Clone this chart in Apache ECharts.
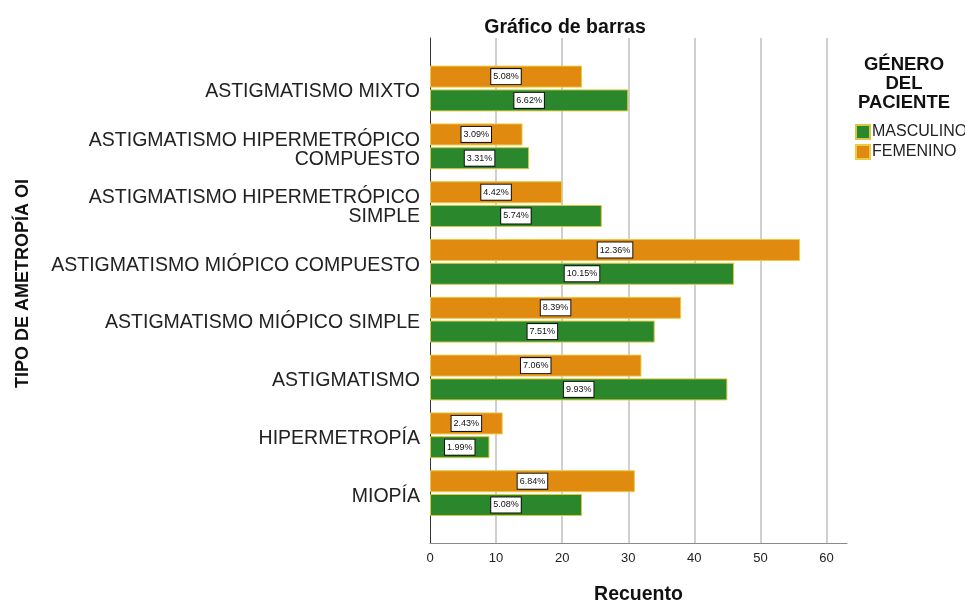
<!DOCTYPE html>
<html><head><meta charset="utf-8">
<script src="https://cdn.jsdelivr.net/npm/echarts@6/dist/echarts.min.js"></script>
<style>html,body{margin:0;padding:0;background:#fff}#c{width:965px;height:600px}</style>
</head><body><div id="c"></div>
<script>
const categories = ['ASTIGMATISMO MIXTO', 'ASTIGMATISMO HIPERMETRÓPICO\nCOMPUESTO', 'ASTIGMATISMO HIPERMETRÓPICO\nSIMPLE', 'ASTIGMATISMO MIÓPICO COMPUESTO', 'ASTIGMATISMO MIÓPICO SIMPLE', 'ASTIGMATISMO', 'HIPERMETROPÍA', 'MIOPÍA'];
const masculino = [30, 15, 26, 46, 34, 45, 9, 23];
const femenino = [23, 14, 20, 56, 38, 32, 11, 31];
const masculinoLabels = ['6.62%', '3.31%', '5.74%', '10.15%', '7.51%', '9.93%', '1.99%', '5.08%'];
const femeninoLabels = ['5.08%', '3.09%', '4.42%', '12.36%', '8.39%', '7.06%', '2.43%', '6.84%'];
const xTicks = [0, 10, 20, 30, 40, 50, 60];

const FONT = '"Liberation Sans", Arial, sans-serif';
const labelStyle = (arr) => ({
  show: true, position: 'inside',
  formatter: p => arr[p.dataIndex],
  backgroundColor: '#fff', borderColor: '#111', borderWidth: 1,
  padding: [3, 2, 3, 2], fontSize: 9, color: '#111', fontFamily: FONT
});
const chart = echarts.init(document.getElementById('c'), null, {renderer: 'canvas'});
chart.setOption({
  animation: false,
  textStyle: {fontFamily: FONT},
  title: [
    {text: 'Gráfico de barras', left: 560, top: 13, textAlign: 'center',
     textStyle: {fontSize: 19.5, fontWeight: 'bold', color: '#111', fontFamily: FONT}},
    {text: 'GÉNERO\nDEL\nPACIENTE', left: 899, top: 50, textAlign: 'center',
     textStyle: {fontSize: 18.5, fontWeight: 'bold', color: '#111', lineHeight: 19, fontFamily: FONT}}
  ],
  legend: {
    orient: 'vertical', left: 850, top: 119, itemWidth: 14, itemHeight: 14, itemGap: 4,
    icon: 'rect', data: ['MASCULINO', 'FEMENINO'],
    textStyle: {fontSize: 16, color: '#222', padding: [0, 0, 0, -3], fontFamily: FONT}
  },
  grid: [
    {left: 430, right: 118, top: 59.6, height: 462.4, containLabel: false, outerBoundsMode: 'none'},
    {left: 430, right: 118, top: 38, bottom: 57, containLabel: false, outerBoundsMode: 'none'},
    {left: 430, right: 118, top: 63, height: 462.4, containLabel: false, outerBoundsMode: 'none'}
  ],
  xAxis: [
    {gridIndex: 0, type: 'value', min: 0, max: 63.1, interval: 10, show: false},
    {gridIndex: 1, type: 'value', min: 0, max: 63.1, interval: 10,
     name: 'Recuento', nameLocation: 'middle', nameGap: 42,
     nameTextStyle: {fontSize: 19.5, fontWeight: 'bold', color: '#111', fontFamily: FONT},
     axisLine: {show: true, lineStyle: {color: '#8a8a8a', width: 1}},
     axisTick: {show: false},
     axisLabel: {fontSize: 13, color: '#222', margin: 9, showMaxLabel: false,
       formatter: v => xTicks.includes(v) ? String(v) : ''},
     splitLine: {show: true, showMinLine: false, showMaxLine: false, lineStyle: {color: '#cfcfcf', width: 2}}
    },
    {gridIndex: 2, type: 'value', min: 0, max: 63.1, show: false}
  ],
  yAxis: [
    {gridIndex: 0, type: 'category', data: categories, inverse: true, show: false},
    {gridIndex: 1, type: 'value', min: 0, max: 1,
     name: 'TIPO DE AMETROPÍA OI', nameLocation: 'middle', nameGap: 398, nameRotate: 90,
     nameTextStyle: {fontSize: 18, fontWeight: 'bold', color: '#111', fontFamily: FONT, padding: [0, 0, 0, 14]},
     axisLine: {show: true, lineStyle: {color: '#333', width: 1}},
     axisTick: {show: false}, axisLabel: {show: false}, splitLine: {show: false}},
    {gridIndex: 2, type: 'category', data: categories, inverse: true,
     axisLine: {show: false}, axisTick: {show: false},
     axisLabel: {fontSize: 19.5, color: '#222', margin: 10, lineHeight: 19, align: 'right', fontFamily: FONT},
     splitLine: {show: false}}
  ],
  series: [
    {name: 'FEMENINO', type: 'bar', xAxisIndex: 0, yAxisIndex: 0, data: femenino,
     barWidth: 22, barGap: '8%',
     itemStyle: {color: '#E08A10', borderColor: '#EBCB45', borderWidth: 1},
     label: labelStyle(femeninoLabels), z: 3},
    {name: 'MASCULINO', type: 'bar', xAxisIndex: 0, yAxisIndex: 0, data: masculino,
     barWidth: 22, barGap: '8%',
     itemStyle: {color: '#2B872B', borderColor: '#D8C840', borderWidth: 1},
     label: labelStyle(masculinoLabels), z: 3}
  ]
});
</script></body></html>
